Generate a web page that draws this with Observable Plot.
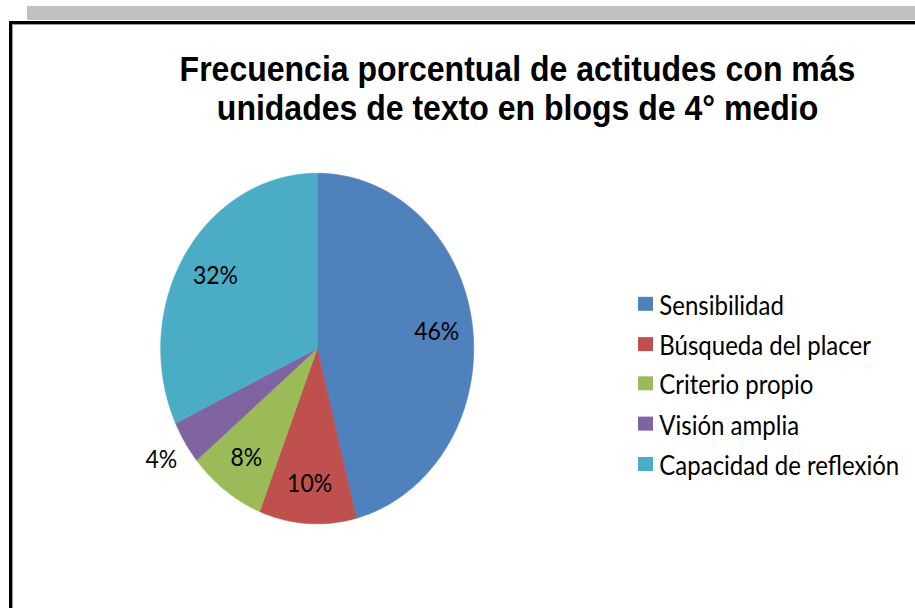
<!DOCTYPE html>
<html><head><meta charset="utf-8">
<script src="https://cdn.jsdelivr.net/npm/d3@7"></script>
<script src="https://cdn.jsdelivr.net/npm/@observablehq/plot@0.6"></script>
<style>
html,body{margin:0;padding:0;background:#fff;overflow:hidden;width:915px;height:608px;}
#bar{position:absolute;left:27px;top:6px;width:888px;height:14px;background:#c0c0c0;}
#frame{position:absolute;left:9px;top:21px;width:920px;height:600px;border-left:3px solid #000;border-top:3px solid #000;box-shadow:inset 1px 1px 0 #9a9a9a;}
#stage{position:absolute;left:0;top:0;width:915px;height:543px;transform:scaleY(1.12);transform-origin:0 0;}
#title{position:absolute;left:117.5px;width:800px;top:43.8px;text-align:center;font:bold 32px "Liberation Sans",Arial,sans-serif;line-height:34.8px;color:#000;white-space:nowrap;}
#chart{position:absolute;left:0;top:0;}
#legend{position:absolute;left:638.3px;top:253.5px;width:276px;}
#legend .lg-swatches{font-family:Lato,sans-serif;font-size:24px;color:#000;margin:0;}
#legend .lg-swatch{height:35.7px;padding:0;}
#legend .lg-swatch > svg{margin-right:6px;}
</style>
</head><body>
<div id="bar"></div>
<div id="frame"></div>
<div id="stage">
  <div id="chart"></div>
  <div id="title"></div>
  <div id="legend"></div>
</div>
<script>
const titleLines = ["Frecuencia porcentual de actitudes con más", "unidades de texto en blogs de 4° medio"];
const categories = ["Sensibilidad", "Búsqueda del placer", "Criterio propio", "Visión amplia", "Capacidad de reflexión"];
const values = [46, 10, 8, 4, 32];
const colors = ["#4F81BD", "#C0504D", "#9BBB59", "#8064A2", "#4BACC6"];

// title
const titleEl = document.getElementById("title");
titleLines.forEach(t => { const d = document.createElement("div"); d.textContent = t; titleEl.appendChild(d); });

// slice geometry (angles clockwise from 12 o'clock)
const total = d3.sum(values);
let acc = 0;
const slices = categories.map((c, i) => {
  const a0 = acc / total * 2 * Math.PI; acc += values[i];
  const a1 = acc / total * 2 * Math.PI;
  return {cat: c, value: values[i], a0, a1};
});
const pts = [];
for (const s of slices) {
  pts.push({cat: s.cat, x: 0, y: 0});
  const n = Math.max(2, Math.ceil((s.a1 - s.a0) / (Math.PI / 360)));
  for (let k = 0; k <= n; k++) {
    const a = s.a0 + (s.a1 - s.a0) * k / n;
    pts.push({cat: s.cat, x: Math.sin(a), y: Math.cos(a)});
  }
  pts.push({cat: s.cat, x: 0, y: 0});
}
const labels = slices.map(s => {
  const m = (s.a0 + s.a1) / 2;
  const r = s.value < 5 ? 1.18 : 0.77;
  return {text: s.value + "%", x: r * Math.sin(m), y: r * Math.cos(m)};
});

const W = 915, H = 543, cx = 316.7, cy = 310.7, R = 156.5;
const plot = Plot.plot({
  width: W, height: H, margin: 0,
  style: {background: "transparent", overflow: "visible"},
  x: {domain: [-1, 1], range: [cx - R, cx + R], axis: null},
  y: {domain: [-1, 1], range: [cy + R, cy - R], axis: null},
  color: {domain: categories, range: colors},
  marks: [
    Plot.line(pts, {x: "x", y: "y", z: "cat", fill: "cat", stroke: "cat", strokeWidth: 0.6, curve: "linear"}),
    Plot.text(labels, {x: "x", y: "y", text: "text", fontSize: 23, fontFamily: "Lato", fill: "#000"})
  ]
});
document.getElementById("chart").appendChild(plot);
document.getElementById("legend").appendChild(
  plot.legend("color", {legend: "swatches", columns: 1, swatchWidth: 15, swatchHeight: 12.5, className: "lg"})
);
</script>
</body></html>
